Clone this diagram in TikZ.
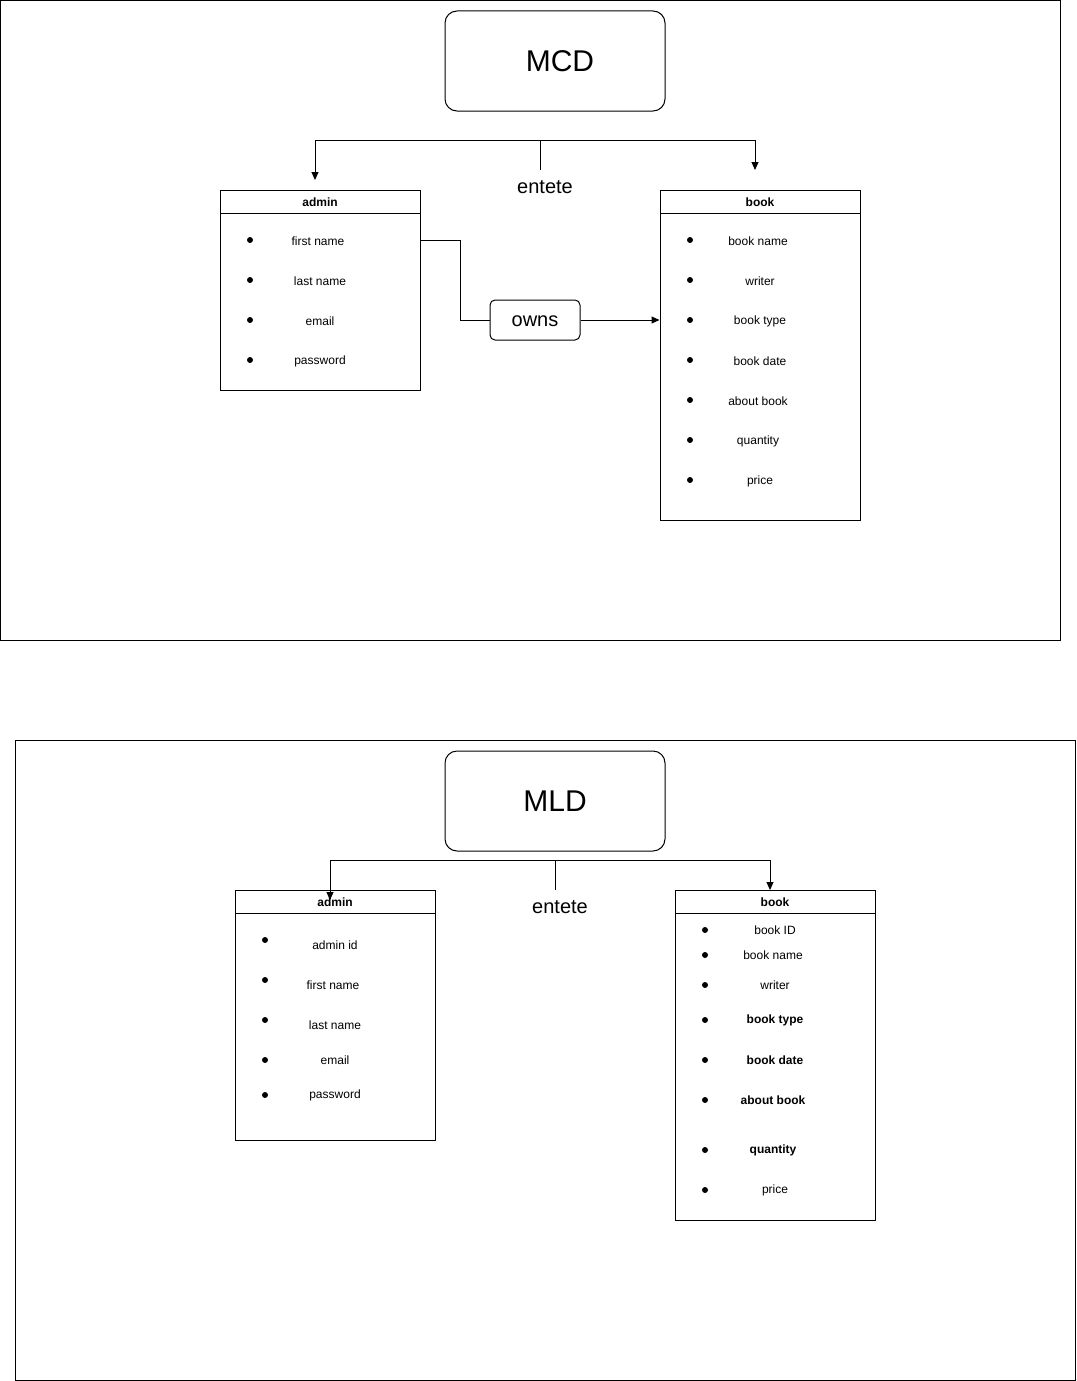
\documentclass[tikz,border=0pt]{standalone}
\usepackage{fontspec}
\setmainfont{Liberation Sans}
\usetikzlibrary{arrows.meta}
\begin{document}
\begin{tikzpicture}[x=1pt,y=-1pt,line width=1pt,
  frame/.style={draw,line width=1pt},
  titlebox/.style={draw,rounded corners=12pt,minimum width=220pt,minimum height=100pt,font=\fontsize{30}{34}\selectfont,inner sep=0pt},
  relbox/.style={draw,rounded corners=5pt,minimum width=90pt,minimum height=40pt,font=\fontsize{20}{24}\selectfont,inner sep=0pt,text height=12pt,text depth=0pt},
  lbl/.style={font=\fontsize{20}{24}\selectfont,inner sep=0pt},
  tbl/.style={draw,minimum width=200pt,inner sep=0pt},
  ttl/.style={font=\fontsize{12}{14}\selectfont\bfseries,inner sep=0pt,anchor=center},
  item/.style={font=\fontsize{12}{14}\selectfont,inner sep=0pt,anchor=center},
  bitem/.style={item,font=\fontsize{12}{14}\selectfont\bfseries},
  dot/.style={circle,fill=black,inner sep=0pt,minimum size=6pt},
  arr/.style={-{Triangle[length=8pt,width=7pt]}},
  conn/.style={line width=1pt}
]
\useasboundingbox (0,0) rectangle (1076,1381);
\fill[white] (0,0) rectangle (1076,1381);

% ================= MCD =================
\node[frame,minimum width=1060pt,minimum height=640pt,inner sep=0pt] (f1) at (530.5,320.5) {};
\node[titlebox] (mcd) at (555,61) {\hspace{10pt}MCD};
\node[lbl] (ent1) at (545,187) {entete};
\coordinate (e1) at (540,170);
\coordinate (e1t) at (540,140);

% admin table
\node[tbl,minimum height=200pt] (adm1) at (320,290) {};
\draw (220,213) -- (420,213);
\node[ttl] (adm1t) at (320,202) {admin};
\node[dot] (ad1a) at (250,240) {}; \node[item] (at1a) at (318,241) {first name};
\node[dot] (ad1b) at (250,280) {}; \node[item] (at1b) at (320,281) {last name};
\node[dot] (ad1c) at (250,320) {}; \node[item] (at1c) at (320,321) {email};
\node[dot] (ad1d) at (250,360) {}; \node[item] (at1d) at (320,361) {password};

% book table
\node[tbl,minimum height=330pt] (bk1) at (760,355) {};
\draw (660,213) -- (860,213);
\node[ttl] (bk1t) at (760,202) {book};
\node[dot] (bd1a) at (690,240) {}; \node[item] (bt1a) at (758,241) {book name};
\node[dot] (bd1b) at (690,280) {}; \node[item] (bt1b) at (760,281) {writer};
\node[dot] (bd1c) at (690,320) {}; \node[item] (bt1c) at (760,321) {book type};
\node[dot] (bd1d) at (690,360) {}; \node[item] (bt1d) at (760,361) {book date};
\node[dot] (bd1e) at (690,400) {}; \node[item] (bt1e) at (758,401) {about book};
\node[dot] (bd1f) at (690,440) {}; \node[item] (bt1f) at (758,441) {quantity};
\node[dot] (bd1g) at (690,480) {}; \node[item] (bt1g) at (760,481) {price};

\node[relbox] (owns) at (535,320) {owns};

\coordinate (a1top) at (315,180);
\coordinate (b1top) at (755,170);
\draw[conn] (e1) -- (e1t);
\draw[conn,arr] (e1t) -| (a1top);
\draw[conn,arr] (e1t) -| (b1top);
\draw[conn] (adm1.east |- ad1a) -- (460,240) |- (owns.west);
\draw[conn,arr] (owns.east) -- (bk1.west |- owns.east);

% ================= MLD =================
\node[frame,minimum width=1060pt,minimum height=640pt,inner sep=0pt] (f2) at (545.5,1060.5) {};
\node[titlebox] (mld) at (555,801) {MLD};
\node[lbl] (ent2) at (560,907) {entete};
\coordinate (e2) at (555,890);
\coordinate (e2t) at (555,860);

% admin table
\node[tbl,minimum height=250pt] (adm2) at (335,1015) {};
\draw (235,913) -- (435,913);
\node[ttl] (adm2t) at (335,902) {admin};
\node[dot] (ad2a) at (265,940) {}; \node[item] (at2a) at (335,945) {admin id};
\node[dot] (ad2b) at (265,980) {}; \node[item] (at2b) at (333,985) {first name};
\node[dot] (ad2c) at (265,1020) {}; \node[item] (at2c) at (335,1025) {last name};
\node[dot] (ad2d) at (265,1060) {}; \node[item] (at2d) at (335,1060) {email};
\node[dot] (ad2e) at (265,1095) {}; \node[item] (at2e) at (335,1095) {password};

% book table
\node[tbl,minimum height=330pt] (bk2) at (775,1055) {};
\draw (675,913) -- (875,913);
\node[ttl] (bk2t) at (775,902) {book};
\node[dot] (bd2a) at (705,930) {}; \node[item] (bt2a) at (775,930) {book ID};
\node[dot] (bd2b) at (705,955) {}; \node[item] (bt2b) at (773,955) {book name};
\node[dot] (bd2c) at (705,985) {}; \node[item] (bt2c) at (775,985) {writer};
\node[dot] (bd2d) at (705,1020) {}; \node[bitem] (bt2d) at (775,1020.5) {book type};
\node[dot] (bd2e) at (705,1060) {}; \node[bitem] (bt2e) at (775,1060.5) {book date};
\node[dot] (bd2f) at (705,1100) {}; \node[bitem] (bt2f) at (773,1100.5) {about book};
\node[dot] (bd2g) at (705,1150) {}; \node[bitem] (bt2g) at (773,1150.5) {quantity};
\node[dot] (bd2h) at (705,1190) {}; \node[item] (bt2h) at (775,1190) {price};

\coordinate (a2top) at (330,900);
\coordinate (b2top) at (770,890);
\draw[conn] (e2) -- (e2t);
\draw[conn,arr] (e2t) -| (a2top);
\draw[conn,arr] (e2t) -| (b2top);
\end{tikzpicture}
\end{document}
